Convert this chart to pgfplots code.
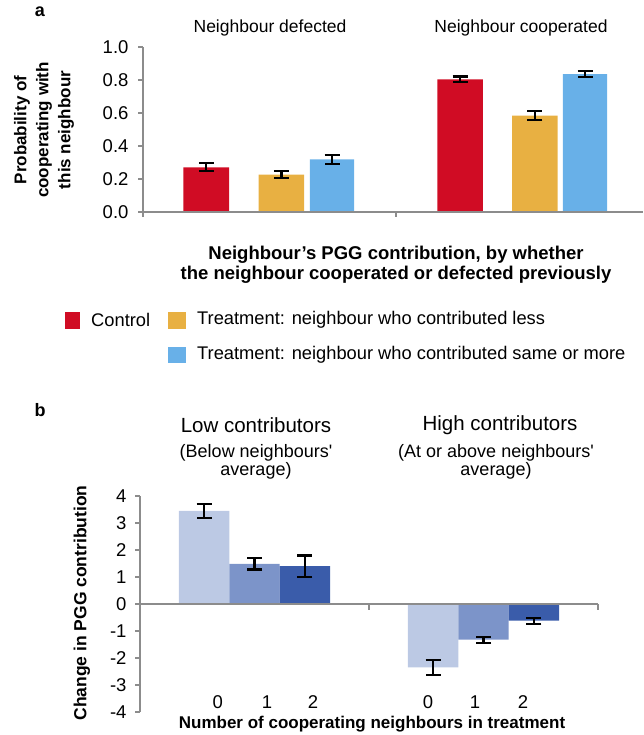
\documentclass[border=0pt]{standalone}
\usepackage{pgfplots}
\pgfplotsset{compat=1.18}
\usepackage{fontspec}
\setmainfont{Liberation Sans}
\definecolor{cred}{RGB}{208,12,36}
\definecolor{corange}{RGB}{232,176,66}
\definecolor{cblue}{RGB}{104,176,232}
\definecolor{blight}{RGB}{188,201,228}
\definecolor{bmid}{RGB}{124,148,201}
\definecolor{bdark}{RGB}{58,92,170}
\definecolor{axgray}{RGB}{140,140,140}
\pgfplotsset{
  errstyle/.style={error bars/.cd, y dir=both, y explicit,
    error bar style={line width=2.2pt, black},
    error mark options={black, line width=2.2pt, mark size=7.5pt, rotate=90}},
}
\begin{document}
\begin{tikzpicture}
\useasboundingbox (0pt,0pt) rectangle (643pt,735pt);
% ---------------- panel a ----------------
\node[font=\fontsize{18}{18}\selectfont\bfseries] at (40pt,723pt) {a};
\begin{axis}[at={(143pt,523pt)}, anchor=south west, scale only axis,
  width=500pt, height=165pt, clip=false,
  xmin=0, xmax=1.976, ymin=0, ymax=1,
  axis y line=left, axis x line=none,
  axis line style={draw=axgray, line width=1.3pt, -},
  ytick={0,0.2,0.4,0.6,0.8,1.0},
  yticklabel style={/pgf/number format/fixed, /pgf/number format/fixed zerofill, /pgf/number format/precision=1, xshift=-6pt},
  /pgf/number format/assume math mode=true,
  tick label style={font=\fontsize{18.5}{18.5}\selectfont},
  tick align=outside, major tick length=5pt,
  tick style={axgray, line width=1.3pt},
  xtick=\empty,
]
\addplot[ybar, bar width=0.18, bar shift=0pt, fill=cred, draw=none, errstyle]
  coordinates {(0.25,0.271) +- (0,0.025) (1.253,0.804) +- (0,0.017)};
\addplot[ybar, bar width=0.18, bar shift=0pt, fill=corange, draw=none, errstyle]
  coordinates {(0.547,0.226) +- (0,0.02) (1.549,0.584) +- (0,0.027)};
\addplot[ybar, bar width=0.175, bar shift=0pt, fill=cblue, draw=none, errstyle]
  coordinates {(0.747,0.319) +- (0,0.026) (1.747,0.835) +- (0,0.018)};
\draw[axgray, line width=1.5pt] (axis cs:0,0) -- (axis cs:1.976,0);
\draw[axgray, line width=1.3pt] (axis cs:0,0) -- ++(0pt,-5pt);
\draw[axgray, line width=1.3pt] (axis cs:1,0) -- ++(0pt,-5pt);
\end{axis}
\node[font=\fontsize{17.5}{17.5}\selectfont] at (270pt,707pt) {Neighbour defected};
\node[font=\fontsize{17.5}{17.5}\selectfont] at (521pt,707pt) {Neighbour cooperated};
\node[font=\fontsize{17}{22}\selectfont\bfseries, align=center, rotate=90] at (44pt,605pt)
  {Probability of\\cooperating with\\this neighbour};
\node[font=\fontsize{18.5}{20}\selectfont\bfseries, align=center] at (396pt,470pt)
  {Neighbour’s PGG contribution, by whether\\the neighbour cooperated or defected previously};
% legend
\fill[cred] (65pt,406pt) rectangle (80pt,423pt);
\node[anchor=west, inner sep=0pt, font=\fontsize{18.3}{18.3}\selectfont] at (91pt,415pt) {Control};
\fill[corange] (168pt,406pt) rectangle (186pt,423pt);
\node[anchor=west, inner sep=0pt, font=\fontsize{18.3}{18.3}\selectfont] at (197pt,415pt) {Treatment: neighbour who contributed less};
\fill[cblue] (168pt,372pt) rectangle (186pt,388pt);
\node[anchor=west, inner sep=0pt, font=\fontsize{18.3}{18.3}\selectfont] at (197pt,380pt) {Treatment: neighbour who contributed same or more};
% ---------------- panel b ----------------
\node[font=\fontsize{18}{18}\selectfont\bfseries] at (40pt,325pt) {b};
\node[font=\fontsize{20.5}{20.5}\selectfont] at (256pt,310pt) {Low contributors};
\node[font=\fontsize{18}{16.5}\selectfont, align=center] at (256pt,273pt) {(Below neighbours\textquotesingle\\average)};
\node[font=\fontsize{20.5}{20.5}\selectfont] at (500pt,310pt) {High contributors};
\node[font=\fontsize{18}{16.5}\selectfont, align=center] at (496pt,273pt) {(At or above neighbours\textquotesingle\\average)};
\begin{axis}[at={(140pt,23pt)}, anchor=south west, scale only axis,
  width=458pt, height=216pt, clip=false,
  xmin=0, xmax=2, ymin=-4, ymax=4,
  axis y line=left, axis x line=none,
  axis line style={draw=axgray, line width=1.3pt, -},
  ytick={-4,-3,-2,-1,0,1,2,3,4},
  yticklabel style={xshift=-5pt},
  /pgf/number format/assume math mode=true,
  tick label style={font=\fontsize{18.5}{18.5}\selectfont},
  tick align=outside, major tick length=5pt,
  tick style={axgray, line width=1.3pt},
  xtick=\empty,
]
\addplot[ybar, bar width=0.22, bar shift=0pt, fill=blight, draw=none, errstyle]
  coordinates {(0.28,3.45) +- (0,0.25) (1.28,-2.35) +- (0,0.27)};
\addplot[ybar, bar width=0.22, bar shift=0pt, fill=bmid, draw=none, errstyle]
  coordinates {(0.50,1.49) +- (0,0.21) (1.50,-1.32) +- (0,0.11)};
\addplot[ybar, bar width=0.22, bar shift=0pt, fill=bdark, draw=none, errstyle]
  coordinates {(0.72,1.40) +- (0,0.40) (1.72,-0.62) +- (0,0.11)};
\draw[axgray, line width=1.5pt] (axis cs:0,0) -- (axis cs:2,0);
\draw[axgray, line width=1.3pt] (axis cs:1,0) -- ++(0pt,-6pt);
\draw[axgray, line width=1.3pt] (axis cs:2,0) -- ++(0pt,-6pt);
\node[font=\fontsize{18.5}{18.5}\selectfont] at (axis cs:0.34,-3.62) {0};
\node[font=\fontsize{18.5}{18.5}\selectfont] at (axis cs:0.555,-3.62) {1};
\node[font=\fontsize{18.5}{18.5}\selectfont] at (axis cs:0.755,-3.62) {2};
\node[font=\fontsize{18.5}{18.5}\selectfont] at (axis cs:1.258,-3.62) {0};
\node[font=\fontsize{18.5}{18.5}\selectfont] at (axis cs:1.463,-3.62) {1};
\node[font=\fontsize{18.5}{18.5}\selectfont] at (axis cs:1.672,-3.62) {2};
\end{axis}
\node[font=\fontsize{17.5}{17.5}\selectfont\bfseries, rotate=90] at (82pt,132pt) {Change in PGG contribution};
\node[font=\fontsize{17}{17}\selectfont\bfseries] at (372pt,11pt) {Number of cooperating neighbours in treatment};
\end{tikzpicture}
\end{document}
